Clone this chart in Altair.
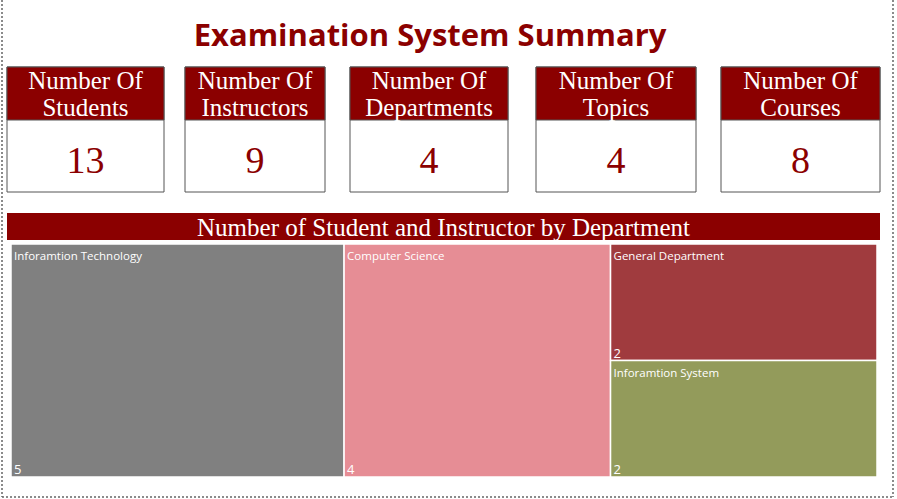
import altair as alt
import pandas as pd

# ---------------- data ----------------
title_text = "Examination System Summary"
kpi_labels = ["Number Of\nStudents", "Number Of\nInstructors", "Number Of\nDepartments",
              "Number Of\nTopics", "Number Of\nCourses"]
kpi_values = [13, 9, 4, 4, 8]

treemap_title = "Number of Student and Instructor by Department"
departments = ["Inforamtion Technology", "Computer Science", "General Department", "Inforamtion System"]
dept_counts = [5, 4, 2, 2]
dept_colors = ["#808080", "#E68D95", "#A03B3E", "#939B5B"]

# ---------------- layout (page geometry) ----------------
W, H = 897, 499
DARK_RED = "#8B0000"
card_left = [7, 185, 350, 536, 721]
card_right = [164, 325, 508, 696, 880]
card_top, card_head_bottom, card_bottom = 67, 120, 192
banner = (7, 213, 880, 240)
tm_box = (11, 244, 877, 477)
tm_columns = [[0], [1], [2, 3]]  # grouping of departments into treemap columns

# treemap rectangles computed from the counts
total = sum(dept_counts)
bx0, by0, bx1, by1 = tm_box
tm_rows = []
cx = bx0
for col in tm_columns:
    col_sum = sum(dept_counts[i] for i in col)
    cw = (bx1 - bx0) * col_sum / total
    cy = by0
    for i in col:
        ch = (by1 - by0) * dept_counts[i] / col_sum
        tm_rows.append(dict(name=departments[i], count=dept_counts[i], color=dept_colors[i],
                            x=cx, x2=cx + cw, y=cy, y2=cy + ch))
        cy += ch
    cx += cw
tm_df = pd.DataFrame(tm_rows)
tm_df["lx"] = tm_df["x"] + 3
tm_df["ly"] = tm_df["y"] + 13
tm_df["vy"] = tm_df["y2"] - 7

cards = pd.DataFrame(dict(label=kpi_labels, value=kpi_values, x=card_left, x2=card_right))
cards["cx"] = (cards["x"] + cards["x2"]) / 2
cards["y"] = card_top
cards["yh"] = card_head_bottom
cards["y2"] = card_bottom
cards["ty"] = card_top + 14
cards["vy"] = card_head_bottom + 42

xs = alt.Scale(domain=[0, W], nice=False, zero=False)
ys = alt.Scale(domain=[0, H], nice=False, zero=False, reverse=True)


def X(f):
    return alt.X(f, type="quantitative", scale=xs, axis=None)


def Y(f):
    return alt.Y(f, type="quantitative", scale=ys, axis=None)


# page dotted border
border = pd.DataFrame(dict(x=[2, 893, 2], x2=[2, 893, 893], y=[0, 0, 497], y2=[497, 497, 497]))
border_layer = alt.Chart(border).mark_rule(color="#666666", strokeDash=[2, 2], strokeWidth=1.5).encode(
    x=X("x"), x2="x2", y=Y("y"), y2="y2")

title_layer = alt.Chart(pd.DataFrame(dict(t=[title_text], x=[430], y=[37]))).mark_text(
    font="Open Sans", fontWeight="bold", fontSize=31, color=DARK_RED, align="center", baseline="middle"
).encode(x=X("x"), y=Y("y"), text="t:N")

card_body = alt.Chart(cards).mark_rect(fill="white", stroke="#555555", strokeWidth=1).encode(
    x=X("x"), x2="x2", y=Y("y"), y2="y2")
card_head = alt.Chart(cards).mark_rect(fill=DARK_RED, stroke="#555555", strokeWidth=1).encode(
    x=X("x"), x2="x2", y=Y("y"), y2="yh")
card_label = alt.Chart(cards).mark_text(
    font="Liberation Serif", fontSize=25, color="white", lineBreak="\n", lineHeight=27,
    align="center", baseline="middle"
).encode(x=X("cx"), y=Y("ty"), text="label:N")
card_value = alt.Chart(cards).mark_text(
    font="Liberation Serif", fontSize=38, color=DARK_RED, align="center", baseline="middle"
).encode(x=X("cx"), y=Y("vy"), text="value:N")

banner_df = pd.DataFrame(dict(x=[banner[0]], x2=[banner[2]], y=[banner[1]], y2=[banner[3]],
                              t=[treemap_title], cx=[(banner[0] + banner[2]) / 2],
                              cy=[(banner[1] + banner[3]) / 2 + 1]))
banner_rect = alt.Chart(banner_df).mark_rect(fill=DARK_RED).encode(
    x=X("x"), x2="x2", y=Y("y"), y2="y2")
banner_text = alt.Chart(banner_df).mark_text(
    font="Liberation Serif", fontSize=25, color="white", align="center", baseline="middle"
).encode(x=X("cx"), y=Y("cy"), text="t:N")

tm_rect = alt.Chart(tm_df).mark_rect(stroke="white", strokeWidth=1.5).encode(
    x=X("x"), x2="x2", y=Y("y"), y2="y2", color=alt.Color("color:N", scale=None))
tm_label = alt.Chart(tm_df).mark_text(
    font="Open Sans", fontSize=11.5, color="white", align="left", baseline="middle"
).encode(x=X("lx"), y=Y("ly"), text="name:N")
tm_value = alt.Chart(tm_df).mark_text(
    font="Open Sans", fontSize=13, color="white", align="left", baseline="middle"
).encode(x=X("lx"), y=Y("vy"), text="count:N")

chart = alt.layer(
    border_layer, title_layer, card_body, card_head, card_label, card_value,
    banner_rect, banner_text, tm_rect, tm_label, tm_value
).properties(
    width=W, height=H, padding=0, autosize=alt.AutoSizeParams(type="none")
).configure_view(strokeWidth=0)

chart.save("out.html", embed_options={"renderer": "svg", "actions": False})
